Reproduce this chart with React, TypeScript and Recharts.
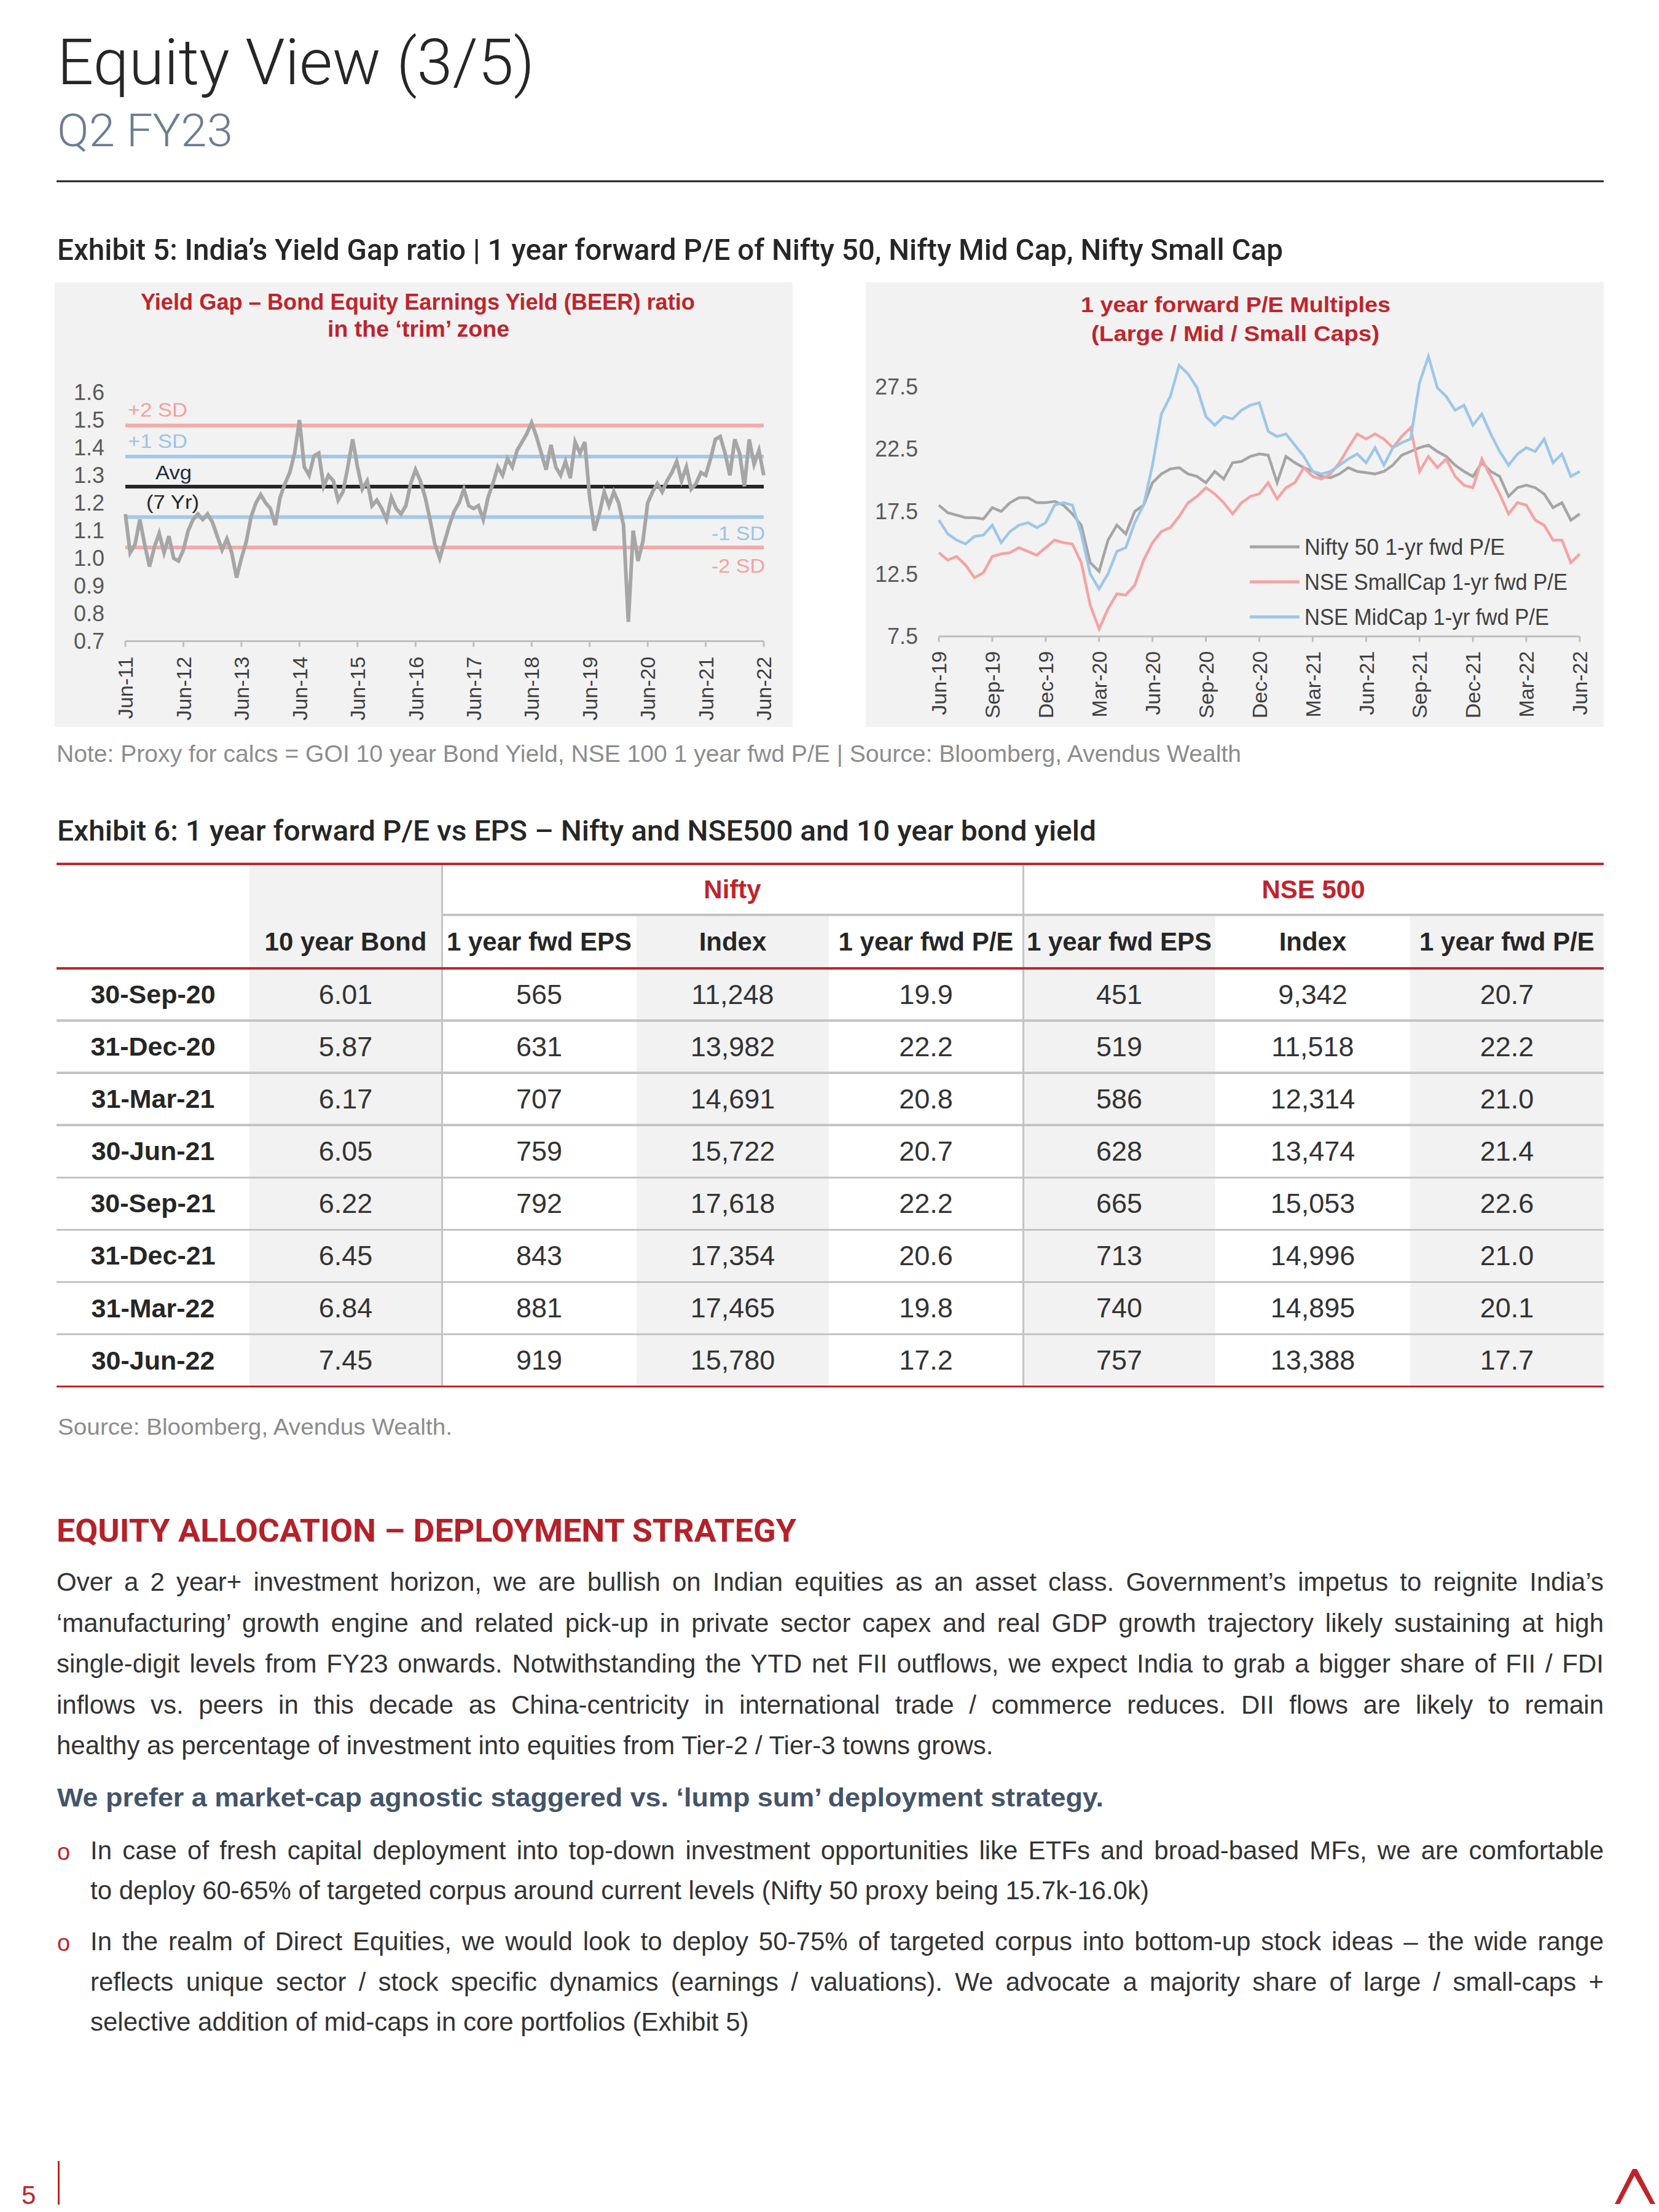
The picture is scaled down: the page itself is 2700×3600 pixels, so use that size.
import React from 'react';
import { LineChart, Line, XAxis, YAxis, ReferenceLine, Legend } from 'recharts';

const RED = '#c0242b';
const SANS = "'Liberation Sans', Arial, sans-serif";
const HEAD = "Roboto, 'Liberation Sans', sans-serif";

// Exhibit 5 (left) - Yield Gap / BEER ratio, monthly from Jun-11 to Jun-22
const beerTicks = ['Jun-11', 'Jun-12', 'Jun-13', 'Jun-14', 'Jun-15', 'Jun-16', 'Jun-17', 'Jun-18', 'Jun-19', 'Jun-20', 'Jun-21', 'Jun-22'];
const beerYTicks = [0.7, 0.8, 0.9, 1.0, 1.1, 1.2, 1.3, 1.4, 1.5, 1.6];
const beerValues = [
  1.16, 1.02, 1.05, 1.14, 1.05, 0.97, 1.04, 1.09, 1.02, 1.08, 1.0, 0.99, 1.03,
  1.1, 1.14, 1.16, 1.14, 1.16, 1.13, 1.08, 1.03, 1.07, 1.02, 0.93, 1.0,
  1.06, 1.15, 1.2, 1.23, 1.2, 1.18, 1.12, 1.22, 1.27, 1.31, 1.38, 1.5,
  1.33, 1.3, 1.37, 1.38, 1.26, 1.3, 1.28, 1.21, 1.24, 1.33, 1.43, 1.33,
  1.25, 1.28, 1.19, 1.21, 1.18, 1.14, 1.22, 1.18, 1.16, 1.19, 1.27, 1.32,
  1.28, 1.22, 1.14, 1.05, 1.0, 1.06, 1.12, 1.17, 1.2, 1.25, 1.19, 1.18,
  1.19, 1.14, 1.22, 1.27, 1.33, 1.3, 1.36, 1.33, 1.39, 1.42, 1.45, 1.49,
  1.44, 1.38, 1.32, 1.41, 1.33, 1.3, 1.35, 1.29, 1.42, 1.38, 1.42, 1.22,
  1.1, 1.16, 1.24, 1.19, 1.24, 1.2, 1.12, 0.77, 1.1, 0.99, 1.06, 1.2,
  1.24, 1.27, 1.24, 1.28, 1.31, 1.35, 1.28, 1.33, 1.25, 1.27, 1.31, 1.3,
  1.36, 1.43, 1.44, 1.38, 1.3, 1.43, 1.38, 1.26, 1.43, 1.34, 1.39, 1.3,
];
// +2 SD, +1 SD, Avg (7 Yr), -1 SD, -2 SD
const beerBands = [1.48, 1.368, 1.259, 1.149, 1.039];
const beerBandNames = ['+2 SD', '+1 SD', 'Avg', '-1 SD', '-2 SD'];

// Exhibit 5 (right) - 1 year fwd P/E, half-monthly from Jun-19 to Jun-22
const peTicks = ['Jun-19', 'Sep-19', 'Dec-19', 'Mar-20', 'Jun-20', 'Sep-20', 'Dec-20', 'Mar-21', 'Jun-21', 'Sep-21', 'Dec-21', 'Mar-22', 'Jun-22'];
const peYTicks = [7.5, 12.5, 17.5, 22.5, 27.5];
const nifty50Pe = [
  18.0, 17.4, 17.2, 17.0, 17.0, 16.9, 17.8, 17.5, 18.2, 18.6,
  18.6, 18.2, 18.2, 18.3, 18.0, 17.3, 16.4, 13.4, 12.7, 15.2,
  16.4, 15.7, 17.5, 18.0, 19.8, 20.5, 20.9, 21.0, 20.5, 20.3,
  19.8, 20.7, 20.1, 21.4, 21.5, 21.9, 22.1, 22.0, 19.8, 21.9,
  21.4, 21.0, 20.7, 20.3, 20.2, 20.5, 21.0, 20.7, 20.6, 20.5,
  20.7, 21.2, 22.0, 22.3, 22.6, 22.8, 22.3, 21.9, 21.2, 20.7,
  20.3, 21.4, 20.7, 20.3, 18.7, 19.4, 19.6, 19.4, 18.9, 17.8,
  18.2, 16.8, 17.3,
];
const smallCapPe = [
  14.2, 13.6, 13.9, 13.2, 12.2, 12.6, 13.9, 14.1, 14.2, 14.6,
  14.3, 14.0, 14.6, 15.2, 15.0, 14.9, 13.4, 10.0, 8.1, 9.7,
  10.9, 10.8, 11.6, 13.6, 15.0, 15.9, 16.2, 17.1, 18.2, 18.7,
  19.4, 18.9, 18.2, 17.3, 18.2, 18.7, 18.9, 19.8, 18.5, 19.4,
  19.8, 21.0, 20.3, 20.1, 20.5, 21.4, 22.6, 23.7, 23.3, 23.7,
  23.3, 22.6, 23.5, 24.2, 20.7, 21.9, 21.0, 21.7, 20.3, 19.6,
  19.4, 21.7, 20.3, 18.9, 17.3, 18.2, 18.0, 16.8, 16.4, 15.2,
  15.2, 13.4, 14.1,
];
const midCapPe = [
  16.8, 15.7, 15.2, 14.9, 15.5, 15.6, 16.4, 15.0, 15.9, 16.4,
  16.6, 16.2, 16.6, 18.0, 18.2, 18.0, 15.7, 12.5, 11.3, 12.5,
  14.3, 14.6, 16.6, 18.0, 21.2, 25.3, 26.7, 29.2, 28.5, 27.4,
  25.1, 24.4, 25.1, 24.9, 25.6, 26.0, 26.2, 23.9, 23.5, 23.7,
  22.8, 21.9, 20.7, 20.5, 20.7, 21.2, 21.7, 22.1, 21.4, 22.6,
  21.2, 22.6, 23.0, 23.3, 27.8, 29.9, 27.4, 26.7, 25.6, 26.0,
  24.4, 25.3, 23.7, 22.3, 21.2, 22.1, 22.6, 22.3, 23.3, 21.4,
  22.1, 20.3, 20.7,
];
const peSeriesNames = ['Nifty 50 1-yr fwd P/E', 'NSE SmallCap 1-yr fwd P/E', 'NSE MidCap 1-yr fwd P/E'];

// Exhibit 6 table
const tableDates = ['30-Sep-20', '31-Dec-20', '31-Mar-21', '30-Jun-21', '30-Sep-21', '31-Dec-21', '31-Mar-22', '30-Jun-22'];
const tableHeaders = ['10 year Bond', '1 year fwd EPS', 'Index', '1 year fwd P/E', '1 year fwd EPS', 'Index', '1 year fwd P/E'];
const bondYield = ['6.01', '5.87', '6.17', '6.05', '6.22', '6.45', '6.84', '7.45'];
const niftyEps = ['565', '631', '707', '759', '792', '843', '881', '919'];
const niftyIndex = ['11,248', '13,982', '14,691', '15,722', '17,618', '17,354', '17,465', '15,780'];
const niftyPe = ['19.9', '22.2', '20.8', '20.7', '22.2', '20.6', '19.8', '17.2'];
const nse500Eps = ['451', '519', '586', '628', '665', '713', '740', '757'];
const nse500Index = ['9,342', '11,518', '12,314', '13,474', '15,053', '14,996', '14,895', '13,388'];
const nse500Pe = ['20.7', '22.2', '21.0', '21.4', '22.6', '21.0', '20.1', '17.7'];

const paragraph = [
  'Over a 2 year+ investment horizon, we are bullish on Indian equities as an asset class. Government’s impetus to reignite India’s',
  '‘manufacturing’ growth engine and related pick-up in private sector capex and real GDP growth trajectory likely sustaining at high',
  'single-digit levels from FY23 onwards. Notwithstanding the YTD net FII outflows, we expect India to grab a bigger share of FII / FDI',
  'inflows vs. peers in this decade as China-centricity in international trade / commerce reduces. DII flows are likely to remain',
  'healthy as percentage of investment into equities from Tier-2 / Tier-3 towns grows.',
];
const bullet1 = [
  'In case of fresh capital deployment into top-down investment opportunities like ETFs and broad-based MFs, we are comfortable',
  'to deploy 60-65% of targeted corpus around current levels (Nifty 50 proxy being 15.7k-16.0k)',
];
const bullet2 = [
  'In the realm of Direct Equities, we would look to deploy 50-75% of targeted corpus into bottom-up stock ideas – the wide range',
  'reflects unique sector / stock specific dynamics (earnings / valuations). We advocate a majority share of large / small-caps +',
  'selective addition of mid-caps in core portfolios (Exhibit 5)',
];

function RotTick(props: any) {
  const { x, y, payload, labels, step } = props;
  const label = labels[Math.round(payload.value / step)];
  return (
    <text x={x} y={y} transform={`rotate(-90 ${x} ${y})`} textAnchor="end" dy="0.36em"
      fontSize={34} fill="#404040" fontFamily={SANS}>
      {label}
    </text>
  );
}

// label drawn next to a horizontal reference line
const bandLabel = (text: string, color: string, side: 'left' | 'right', dx: number, dy: number, w: number) => (props: any) => {
  const vb = props.viewBox || {};
  const x = side === 'right' ? vb.x + vb.width + dx : vb.x + dx;
  return (
    <text x={x} y={vb.y + dy} fill={color} fontSize={32} fontFamily={SANS}
      textAnchor={side === 'right' ? 'end' : 'start'} textLength={w} lengthAdjust="spacingAndGlyphs">
      {text}
    </text>
  );
};

const avgLabel = (props: any) => {
  const vb = props.viewBox || {};
  return (
    <g>
      <text x={vb.x + 49} y={vb.y - 11.5} fill="#1f2a3c" fontSize={32} fontFamily={SANS} textLength={59} lengthAdjust="spacingAndGlyphs">
        {beerBandNames[2]}
      </text>
      <text x={vb.x + 34} y={vb.y + 36} fill="#262626" fontSize={32} fontFamily={SANS} textLength={86} lengthAdjust="spacingAndGlyphs">
        (7 Yr)
      </text>
    </g>
  );
};

const renderPeLegend = (props: any) => {
  const widths = [326, 428, 398];
  const payload = props.payload || [];
  // keep the series order of the source legend
  const items = peSeriesNames.map((n) => payload.find((p: any) => p.value === n)).filter(Boolean);
  return (
    <svg width={540} height={180} style={{ display: 'block' }}>
      {items.map((item: any, k: number) => {
        const cy = 31 + k * 57;
        return (
          <g key={k}>
            <line x1={0} x2={81} y1={cy} y2={cy} stroke={item.color} strokeWidth={5} />
            <text x={89} y={cy + 12.5} fontSize={36} fill="#404040" fontFamily={SANS}
              textLength={widths[k]} lengthAdjust="spacingAndGlyphs">
              {item.value}
            </text>
          </g>
        );
      })}
    </svg>
  );
};

function T(p: any) {
  const { x, y, w, size, weight = 400, fill = '#262626', family = SANS, anchor = 'start', children } = p;
  return (
    <text x={x} y={y} fontSize={size} fontWeight={weight} fill={fill} fontFamily={family}
      textAnchor={anchor} textLength={w} lengthAdjust="spacingAndGlyphs">
      {children}
    </text>
  );
}

// one justified line of body copy
function JLine({ x, base, w, text, last = false, size = 42, color = '#333333' }: any) {
  return (
    <div style={{
      position: 'absolute', left: x, top: base - 0.8465 * size, width: w, height: size,
      fontSize: size, lineHeight: `${size}px`, fontFamily: SANS, color,
      textAlign: 'justify', textAlignLast: last ? 'left' : 'justify', whiteSpace: 'normal',
    }}>
      {text}
    </div>
  );
}

const colX = [92, 406, 719, 1036, 1349, 1665, 1978, 2295, 2610];
const rowTop = 1576;
const rowH = 85.08;

function Cell({ c, y0, y1, children, style }: any) {
  return (
    <div style={{
      position: 'absolute', left: colX[c], top: y0, width: colX[c + 1] - colX[c], height: y1 - y0,
      display: 'flex', alignItems: 'center', justifyContent: 'center', fontFamily: SANS, ...style,
    }}>
      {children}
    </div>
  );
}

function Table() {
  const cols = [bondYield, niftyEps, niftyIndex, niftyPe, nse500Eps, nse500Index, nse500Pe];
  const bottom = rowTop + rowH * tableDates.length;
  const hline = (y: number, x0: number, x1: number, color: string) => (
    <div style={{ position: 'absolute', left: x0, top: y - 1.75, width: x1 - x0, height: 3.5, background: color }} />
  );
  return (
    <>
      {/* column shading */}
      <div style={{ position: 'absolute', left: colX[1], top: 1406, width: colX[2] - colX[1], height: bottom - 1406, background: '#f2f2f2' }} />
      {[3, 5, 7].map((c) => (
        <div key={c} style={{ position: 'absolute', left: colX[c], top: 1489, width: colX[c + 1] - colX[c], height: bottom - 1489, background: '#f2f2f2' }} />
      ))}
      {/* vertical dividers */}
      {[2, 5].map((c) => (
        <div key={c} style={{ position: 'absolute', left: colX[c] - 1.5, top: 1406, width: 3, height: bottom - 1406, background: '#c4c4c4' }} />
      ))}
      {tableDates.slice(1).map((_, k) => <React.Fragment key={k}>{hline(rowTop + rowH * (k + 1), 92, 2610, '#c4c4c4')}</React.Fragment>)}
      {hline(1489, colX[2], 2610, '#c4c4c4')}
      {hline(1406, 92, 2610, RED)}
      {hline(rowTop, 92, 2610, RED)}
      {hline(bottom, 92, 2610, RED)}
      <Cell c={2} y0={1406} y1={1489} style={{ width: colX[5] - colX[2], color: RED, fontWeight: 700, fontSize: 42 }}>Nifty</Cell>
      <Cell c={5} y0={1406} y1={1489} style={{ width: colX[8] - colX[5], color: RED, fontWeight: 700, fontSize: 42 }}>NSE 500</Cell>
      {tableHeaders.map((h, k) => (
        <Cell key={k} c={k + 1} y0={1489} y1={rowTop} style={{ fontWeight: 700, fontSize: 42, color: '#262626', whiteSpace: 'nowrap' }}>{h}</Cell>
      ))}
      {tableDates.map((d, r) => (
        <React.Fragment key={r}>
          <Cell c={0} y0={rowTop + rowH * r} y1={rowTop + rowH * (r + 1)} style={{ fontWeight: 700, fontSize: 43, color: '#262626' }}>{d}</Cell>
          {cols.map((col, k) => (
            <Cell key={k} c={k + 1} y0={rowTop + rowH * r} y1={rowTop + rowH * (r + 1)} style={{ fontSize: 45, color: '#333333' }}>{col[r]}</Cell>
          ))}
        </React.Fragment>
      ))}
    </>
  );
}

export default function App() {
  const beerData = beerValues.map((v, i) => ({ m: i, beer: v }));
  const peData = nifty50Pe.map((v, i) => ({ h: i, nifty: v, small: smallCapPe[i], mid: midCapPe[i] }));
  const beerXTicks = beerTicks.map((_, k) => k * 12);
  const peXTicks = peTicks.map((_, k) => k * 6);
  const axisStroke = { stroke: '#bfbfbf', strokeWidth: 3 };

  return (
    <div style={{ position: 'absolute', left: 0, top: 0, width: 2700, height: 3600, background: '#ffffff', overflow: 'hidden' }}>
      {/* Left chart panel */}
      <div style={{ position: 'absolute', left: 89, top: 459, width: 1201, height: 724, background: '#f2f2f2' }}>
        <LineChart width={1201} height={724} data={beerData} margin={{ top: 179.5, right: 47, bottom: 0, left: 0 }}>
          <XAxis type="number" dataKey="m" domain={[0, 132]} ticks={beerXTicks} interval={0} height={139.4}
            axisLine={axisStroke} tickLine={axisStroke} tickSize={9} tickMargin={16}
            tick={<RotTick labels={beerTicks} step={12} />} />
          <YAxis type="number" domain={[0.7, 1.6]} ticks={beerYTicks} interval={0} width={115}
            axisLine={false} tickLine={false} tickSize={0} tickMargin={34}
            tick={{ fontSize: 36, fill: '#595959', fontFamily: SANS }} tickFormatter={(v: number) => v.toFixed(1)} />
          <ReferenceLine y={beerBands[0]} stroke="#f5a9a9" strokeWidth={6} label={bandLabel(beerBandNames[0], '#f2a1a1', 'left', 4, -14.5, 97)} />
          <ReferenceLine y={beerBands[1]} stroke="#a3c9ea" strokeWidth={6} label={bandLabel(beerBandNames[1], '#9cc3e6', 'left', 4, -14, 97)} />
          <ReferenceLine y={beerBands[2]} stroke="#262626" strokeWidth={6} label={avgLabel} />
          <ReferenceLine y={beerBands[3]} stroke="#a3c9ea" strokeWidth={6} label={bandLabel(beerBandNames[3], '#9cc3e6', 'right', 2, 37.5, 87)} />
          <ReferenceLine y={beerBands[4]} stroke="#f5a9a9" strokeWidth={6} label={bandLabel(beerBandNames[4], '#f2a1a1', 'right', 2, 41, 87)} />
          <Line type="linear" dataKey="beer" stroke="#a6a6a6" strokeWidth={6} dot={false} activeDot={false} isAnimationActive={false} />
        </LineChart>
      </div>

      {/* Right chart panel */}
      <div style={{ position: 'absolute', left: 1409, top: 459, width: 1201, height: 724, background: '#f2f2f2' }}>
        <LineChart width={1201} height={724} data={peData} margin={{ top: 68.3, right: 39, bottom: 0, left: 0 }}>
          <XAxis type="number" dataKey="h" domain={[0, 72]} ticks={peXTicks} interval={0} height={147.3}
            axisLine={axisStroke} tickLine={axisStroke} tickSize={9} tickMargin={15}
            tick={<RotTick labels={peTicks} step={6} />} />
          <YAxis type="number" domain={[7.5, 32.5]} ticks={peYTicks} interval={0} width={119}
            axisLine={false} tickLine={false} tickSize={0} tickMargin={34}
            tick={{ fontSize: 36, fill: '#595959', fontFamily: SANS }} tickFormatter={(v: number) => v.toFixed(1)} />
          <Legend layout="vertical" align="center" verticalAlign="middle" content={renderPeLegend}
            wrapperStyle={{ left: 625, top: 400, width: 540, height: 180 }} />
          <Line type="linear" dataKey="nifty" name={peSeriesNames[0]} stroke="#a5a5a5" strokeWidth={4.5} dot={false} activeDot={false} isAnimationActive={false} />
          <Line type="linear" dataKey="small" name={peSeriesNames[1]} stroke="#f5a3a3" strokeWidth={4.5} dot={false} activeDot={false} isAnimationActive={false} />
          <Line type="linear" dataKey="mid" name={peSeriesNames[2]} stroke="#9dc6ea" strokeWidth={4.5} dot={false} activeDot={false} isAnimationActive={false} />
        </LineChart>
      </div>

      <Table />

      {paragraph.map((t, k) => (
        <JLine key={k} x={92} base={2590 + k * 66.5} w={2518} text={t} last={k === paragraph.length - 1} />
      ))}
      {bullet1.map((t, k) => (
        <JLine key={k} x={147} base={3026.7 + k * 65} w={2463} text={t} last={k === bullet1.length - 1} />
      ))}
      {bullet2.map((t, k) => (
        <JLine key={k} x={147} base={3175 + k * 65.5} w={2463} text={t} last={k === bullet2.length - 1} />
      ))}

      <svg width={2700} height={3600} style={{ position: 'absolute', left: 0, top: 0, pointerEvents: 'none' }}>
        <T x={93} y={137} w={777} size={104} weight={300} family={HEAD} fill="#262626">Equity View (3/5)</T>
        <T x={93} y={238} w={286} size={75} weight={300} family={HEAD} fill="#6b7d92">Q2 FY23</T>
        <rect x={92} y={293.5} width={2518} height={3} fill="#1f1f1f" />
        <T x={93} y={423} w={1995} size={49} weight={500} family={HEAD}>Exhibit 5: India’s Yield Gap ratio | 1 year forward P/E of Nifty 50, Nifty Mid Cap, Nifty Small Cap</T>

        <T x={680} y={503.5} w={902} size={36} weight={700} fill={RED} anchor="middle">Yield Gap – Bond Equity Earnings Yield (BEER) ratio</T>
        <T x={681} y={548} w={296} size={36} weight={700} fill={RED} anchor="middle">in the ‘trim’ zone</T>
        <T x={2011} y={508} w={504} size={35} weight={700} fill={RED} anchor="middle">1 year forward P/E Multiples</T>
        <T x={2010.5} y={555} w={469} size={35} weight={700} fill={RED} anchor="middle">(Large / Mid / Small Caps)</T>

        <T x={92} y={1240} w={1928} size={39} fill="#8c8c8c">Note: Proxy for calcs = GOI 10 year Bond Yield, NSE 100 1 year fwd P/E | Source: Bloomberg, Avendus Wealth</T>
        <T x={93} y={1368} w={1691} size={47} weight={500} family={HEAD}>Exhibit 6: 1 year forward P/E vs EPS – Nifty and NSE500 and 10 year bond yield</T>

        <T x={94} y={2334.5} w={642} size={37} fill="#8c8c8c">Source: Bloomberg, Avendus Wealth.</T>
        <T x={92} y={2508.6} w={1204} size={52} weight={700} family={HEAD} fill="#b52129">EQUITY ALLOCATION – DEPLOYMENT STRATEGY</T>
        <T x={93} y={2940} w={1703} size={42} weight={700} fill="#44546a">We prefer a market-cap agnostic staggered vs. ‘lump sum’ deployment strategy.</T>

        <text x={93} y={3026.7} fontSize={38} fill={RED} fontFamily={SANS}>o</text>
        <text x={93} y={3175} fontSize={38} fill={RED} fontFamily={SANS}>o</text>

        <text x={35} y={3587} fontSize={42} fill={RED} fontFamily={SANS}>5</text>
        <rect x={94} y={3517} width={3} height={71} fill={RED} />
        <path d="M2628 3587 L2657 3530 L2664 3530 L2694 3587 L2686 3587 L2660 3541 L2636 3587 Z" fill={RED} />
      </svg>
    </div>
  );
}
